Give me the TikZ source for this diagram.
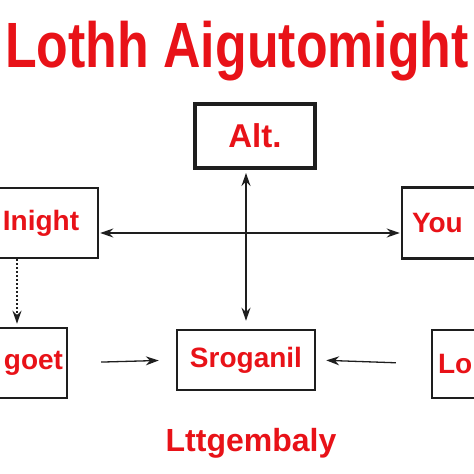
\documentclass[tikz,border=0pt]{standalone}
\usepackage{fontspec}
\setmainfont{Liberation Sans}
\usepackage{xcolor}
\usepackage{tikz}
\usetikzlibrary{arrows.meta}
\definecolor{labelred}{RGB}{232,18,24}
\definecolor{boxgray}{RGB}{30,30,30}

\begin{document}
\begin{tikzpicture}[x=1pt, y=1pt, >={Stealth[length=13pt, width=9pt]},
  box/.style={draw=boxgray, line width=2.5pt, rectangle, inner sep=0pt, text=labelred, font=\fontsize{28}{28}\selectfont\bfseries},
  link/.style={line width=1.3pt, boxgray}]
\useasboundingbox (0,0) rectangle (474,474);
\clip (0,0) rectangle (474,474);

% Title
\node[inner sep=0pt, text=labelred, font=\fontsize{64}{64}\selectfont\bfseries, anchor=base] (title) at (237,406) {\scalebox{0.81}[1]{Lothh Aigutomight}};

% Top box
\node[box, line width=4pt, minimum width=120pt, minimum height=64pt, font=\fontsize{33}{33}\selectfont\bfseries] (alt) at (255,338) {Alt.};

% Middle row
\node[box, minimum width=114pt, minimum height=70pt] (inight) at (41,251) {Inight};
\node[box, text width=70pt, inner xsep=10pt, align=left, minimum height=71pt] (you) at (447,251) {You};

% Bottom row
\node[box, text width=70pt, inner xsep=4pt, align=right, minimum height=70pt] (goet) at (28,111) {goet};
\node[box, minimum width=138pt, minimum height=60pt] (sro) at (246,114) {Sroganil};
\node[box, text width=60pt, inner xsep=6pt, align=left, minimum height=68pt] (lo) at (468,110) {Lo};

% Caption
\node[inner sep=0pt, text=labelred, font=\fontsize{32}{32}\selectfont\bfseries, anchor=base] (caption) at (251,23) {Lttgembaly};

% Connectors
\draw[link, <->, shorten <=1pt, shorten >=1pt] ([yshift=-10pt]inight.east) -- ([yshift=-10pt]you.west);
\draw[link, <->, shorten <=3pt, shorten >=8pt] (sro.north |- alt.south) -- (sro.north);
\draw[link, ->, line width=1.8pt, dash pattern=on 2pt off 2pt, shorten >=3pt] ([xshift=-11pt]inight.south -| goet.north) -- ([xshift=-11pt]goet.north);
\draw[link, ->, shorten <=33pt, shorten >=17pt] (goet.east) -- (sro.west);
\draw[link, ->, shorten <=35pt, shorten >=10pt] (lo.west) -- (sro.east);
\end{tikzpicture}
\end{document}
